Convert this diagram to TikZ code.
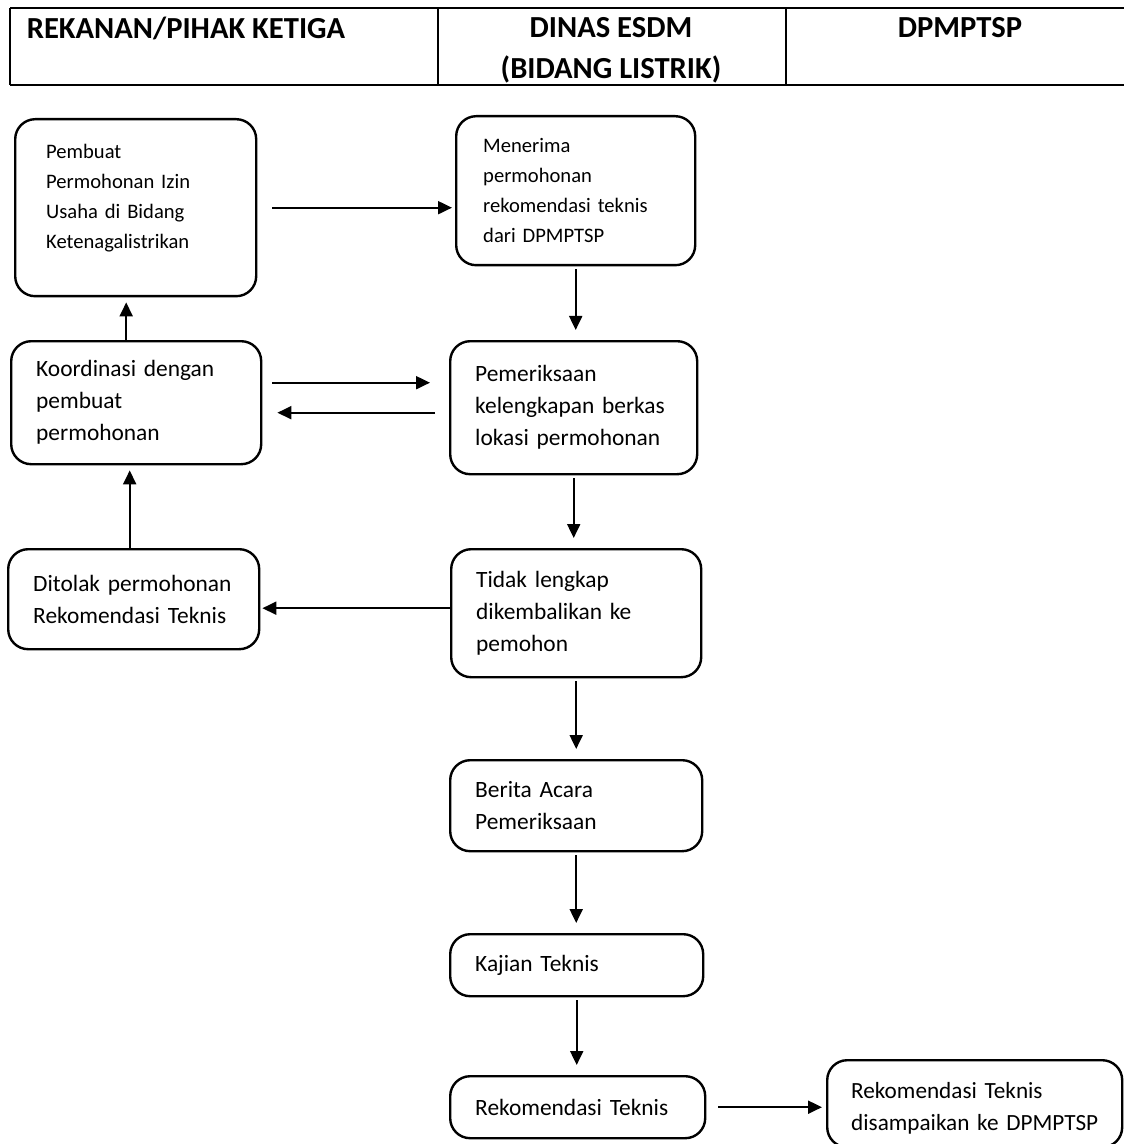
\documentclass[tikz,border=0pt]{standalone}
\usepackage{fontspec}
\setmainfont{Carlito}
\usetikzlibrary{arrows.meta}
\begin{document}
\begin{tikzpicture}[x=0.5pt,y=-0.5pt,line join=round,
  box/.style={draw,line width=1.2pt,rounded corners=10pt,anchor=north west,align=left,inner xsep=12.5pt,inner ysep=0pt,font=\fontsize{11.7}{16}\selectfont},
  smallbox/.style={box,font=\fontsize{10.3}{15}\selectfont},
  head/.style={font=\fontsize{15.3}{20.5}\selectfont\bfseries,align=center},
  arr/.style={line width=1pt,-{Triangle[length=7pt,width=6.5pt]}}]
\useasboundingbox (0,0) rectangle (1124,1144);
\draw[line width=1pt](10,8)--(1124,8) (10,85)--(1124,85) (10,8)--(10,85) (438,8)--(438,85) (786,8)--(786,85);
\node[head] (hrekanan) at (186,28) {REKANAN/PIHAK KETIGA};
\node[head] (hdinas) at (611,50) {DINAS ESDM\\(BIDANG LISTRIK)};
\node[head] (hdpm) at (960,28) {DPMPTSP};
\node[smallbox,inner xsep=15.5pt,text width=89.5pt,text depth=56pt,minimum height=88.5pt] (pembuat) at (14,118) {Pembuat\\Permohonan Izin\\Usaha di Bidang\\Ketenagalistrikan};
\node[smallbox,inner xsep=13.5pt,text width=92.5pt,minimum height=74.5pt] (terima) at (455,115) {Menerima\\permohonan\\rekomendasi teknis\\dari DPMPTSP};
\node[box,text width=100pt,minimum height=61.5pt] (koord) at (10,340) {Koordinasi dengan\\pembuat\\permohonan};
\node[box,text width=98.5pt,minimum height=66.5pt] (periksa) at (449,340) {Pemeriksaan\\kelengkapan berkas\\lokasi permohonan};
\node[box,text width=100.5pt,minimum height=50pt] (tolak) at (7,548) {Ditolak permohonan\\Rekomendasi Teknis};
\node[box,text width=100pt,minimum height=64pt] (tidak) at (450,548) {Tidak lengkap\\dikembalikan ke\\pemohon};
\node[box,text width=101pt,minimum height=45.5pt] (berita) at (449,759) {Berita Acara\\Pemeriksaan};
\node[box,text width=101.5pt,minimum height=31pt] (kajian) at (449,933) {Kajian Teknis};
\node[box,text width=102.5pt,minimum height=31pt] (rekom) at (449,1075) {Rekomendasi Teknis};
\node[box,inner xsep=12pt,text width=123.5pt,text height=13pt,minimum height=43.5pt,font=\fontsize{11.6}{16}\selectfont] (kirim) at (826,1059) {Rekomendasi Teknis\\disampaikan ke DPMPTSP};
% alur
\draw[arr,shorten <=7.5pt,shorten >=1.5pt](pembuat.east)--(pembuat.east -| terima.west);
\foreach \a/\b in {terima/periksa,periksa/tidak,tidak/berita,berita/kajian,kajian/rekom}
  \draw[arr,shorten <=1.5pt,shorten >=5pt](\a.south)--(\a.south |- \b.north);
\draw[arr,shorten <=5pt,shorten >=9.5pt]([yshift=10pt]koord.east)--([yshift=10pt]koord.east -| periksa.west);
\draw[arr,shorten <=7pt,shorten >=7.5pt]([yshift=-5pt]periksa.west |- koord.east)--([yshift=-5pt]koord.east);
\draw[arr,shorten >=2.5pt]([xshift=-5pt]koord.north)--([xshift=-5pt]koord.north |- pembuat.south);
\draw[arr,shorten >=1pt]([yshift=2.5pt]tidak.west)--([yshift=2.5pt]tidak.west -| tolak.east);
\draw[arr,shorten >=2.5pt]([xshift=-2pt]tolak.north)--([xshift=-2pt]tolak.north |- koord.south);
\draw[arr,shorten <=6pt,shorten >=2pt](rekom.east)--(rekom.east -| kirim.west);
\end{tikzpicture}
\end{document}
